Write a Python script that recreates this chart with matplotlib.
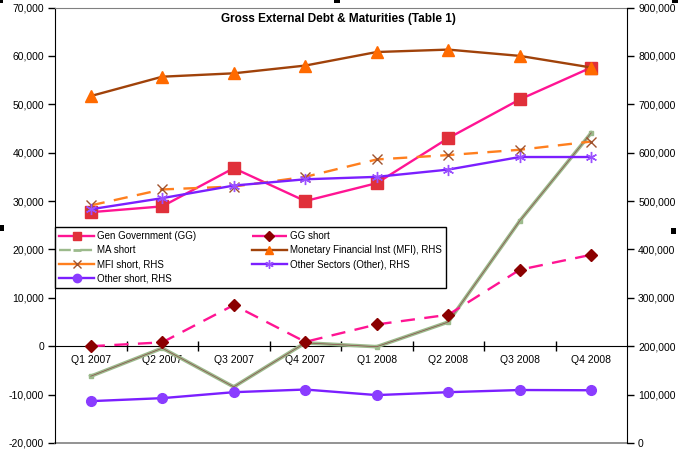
import numpy as np
import matplotlib.pyplot as plt
from matplotlib.lines import Line2D
from matplotlib.patches import Rectangle

plt.rcParams['font.family'] = ['Liberation Sans', 'DejaVu Sans']

# Datos de la tabla
quarters = ["Q1 2007", "Q2 2007", "Q3 2007", "Q4 2007",
            "Q1 2008", "Q2 2008", "Q3 2008", "Q4 2008"]

# eje izquierdo
gg = [27700, 28900, 36800, 30000, 33700, 43000, 51000, 57600]
gg_short = [0, 800, 8500, 900, 4500, 6500, 15800, 18900]
ma_short = [-6200, -400, -8400, 700, -100, 5000, 25900, 44100]

# eje derecho (RHS)
mfi = [717000, 757000, 764000, 780000, 808000, 813000, 800000, 776000]
mfi_short = [491000, 524000, 530000, 550000, 586000, 595000, 606000, 623000]
other = [483000, 506000, 532000, 545000, 550000, 565000, 591000, 591000]
other_short = [86500, 92700, 105000, 110500, 99000, 105000, 109500, 109000]

x = np.arange(len(quarters))

fig = plt.figure(figsize=(6.78, 4.51), dpi=100)
ax = fig.add_axes([55/678, 1-443/451, 572/678, 435.5/451])
ax2 = ax.twinx()

pink = '#ff1493'
purple = '#7b1fff'

# Series del eje izquierdo
ax.plot(x, ma_short, color='#9cba8c', lw=2.6, marker='s', ms=3.5, mfc='#9cba8c', mec='#9cba8c', zorder=3)
ax.plot(x, ma_short, color='#8b4a4a', lw=0.5, zorder=3.1)
ax.plot(x, gg_short, color=pink, lw=1.7, ls=(0, (6, 4)), marker='D', ms=6, mfc='#8b0000', mec='#8b0000', zorder=4)
ax.plot(x, gg, color=pink, lw=1.7, marker='s', ms=8, mfc='#e0303a', mec='#e0303a', zorder=4)

# Series del eje derecho
ax2.plot(x, mfi, color='#a0420a', lw=1.7, marker='^', ms=8, mfc='#ff6a00', mec='#ff6a00')
ax2.plot(x, mfi_short, color='#ff7f1e', lw=1.7, ls=(0, (6, 4)), marker='x', ms=7, mec='#a0522d', mew=1)
ax2.plot(x, other, color=purple, lw=1.7, marker=(6, 2, 0), ms=8, mec='#9a50ff', mew=1)
ax2.plot(x, other_short, color=purple, lw=1.7, marker='o', ms=7, mfc='#8a3cff', mec='#8a3cff')

ax.set_xlim(-0.5, 7.5)
ax.set_ylim(-20000, 70000)
ax2.set_ylim(0, 900000)

ax.set_yticks(np.arange(-20000, 70001, 10000))
ax.set_yticklabels([f"{v:,}" for v in np.arange(-20000, 70001, 10000)])
ax2.set_yticks(np.arange(0, 900001, 100000))
ax2.set_yticklabels([f"{v:,}" for v in np.arange(0, 900001, 100000)])

ax.tick_params(axis='y', direction='out', length=5, width=1, labelsize=7.5, pad=3)
ax2.tick_params(axis='y', direction='out', length=5, width=1, labelsize=7.5, pad=3)

# eje x en cero
ax.spines['bottom'].set_position(('data', 0))
ax.spines['bottom'].set_color('black')
ax.set_xticks(x)
ax.set_xticklabels(quarters)
ax.set_xticks(np.arange(0.5, 7, 1), minor=True)
ax.tick_params(axis='x', which='major', length=0, labelsize=7.5, pad=6)
ax.tick_params(axis='x', which='minor', direction='inout', length=7, width=1)

ax.spines['top'].set_color('#808080')
ax.spines['left'].set_color('black')
ax.spines['right'].set_visible(False)
for s in ['top', 'bottom', 'left']:
    ax2.spines[s].set_visible(False)
ax2.spines['right'].set_color('black')
ax.plot([0, 1], [0, 0], transform=ax.transAxes, color='#808080', lw=1.2, clip_on=False)

ax.text(0.495, 0.987, "Gross External Debt & Maturities (Table 1)", transform=ax.transAxes,
        ha='center', va='top', fontsize=8.5, fontweight='bold')

# Leyenda
handles = [
    Line2D([], [], color=pink, lw=1.7, marker='s', ms=6, mfc='#e0303a', mec='#e0303a'),
    Line2D([], [], color='#9cba8c', lw=1.7, ls=(0, (5, 4)), marker='_', ms=6, mec='#9cba8c', mew=2),
    Line2D([], [], color='#ff7f1e', lw=1.7, marker='x', ms=6, mec='#a0522d', mew=1),
    Line2D([], [], color=purple, lw=1.7, marker='o', ms=6, mfc='#8a3cff', mec='#8a3cff'),
    Line2D([], [], color=pink, lw=1.7, ls=(0, (6, 3)), marker='D', ms=5, mfc='#8b0000', mec='#8b0000'),
    Line2D([], [], color='#a0420a', lw=1.7, marker='^', ms=6, mfc='#ff6a00', mec='#ff6a00'),
    Line2D([], [], color=purple, lw=1.7, marker=(6, 2, 0), ms=6, mec='#9a50ff', mew=1),
]
labels = ["Gen Government (GG)", "MA short", "MFI short, RHS", "Other short, RHS",
          "GG short", "Monetary Financial Inst (MFI), RHS", "Other Sectors (Other), RHS"]
leg = ax2.legend(handles, labels, ncol=2, loc='upper left',
                 bbox_to_anchor=(0, 1-(227-7.5)/435.5, 391/572, 0), mode='expand',
                 fontsize=7, handlelength=3.6, handletextpad=0.3, labelspacing=0.42,
                 borderaxespad=0, borderpad=0.45, columnspacing=1.0, fancybox=False,
                 framealpha=1, edgecolor='black')
leg.get_frame().set_linewidth(1)

# marcas de selección
for (px, py, w, h) in [(0, 0, 3, 3), (334, 0, 6, 3), (672, 0, 6, 3), (0, 225, 4, 6), (671, 228, 5, 6)]:
    fig.add_artist(Rectangle((px/678, 1-(py+h)/451), w/678, h/451,
                             transform=fig.transFigure, color='black', lw=0))

fig.savefig('out.png', dpi=100)
